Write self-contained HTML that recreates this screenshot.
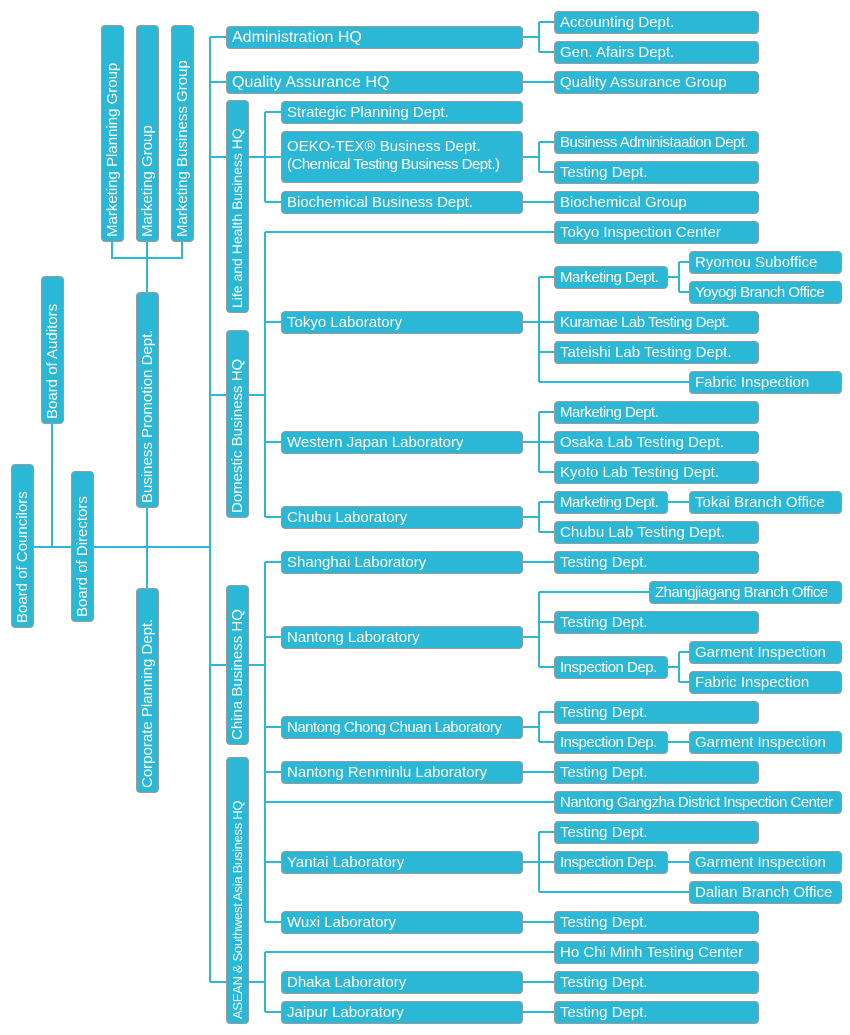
<!DOCTYPE html>
<html><head><meta charset="utf-8"><style>
body{margin:0;width:850px;height:1035px;background:#fff;position:relative;overflow:hidden;font-family:"Liberation Sans",sans-serif}
.b{position:absolute;height:23px;box-sizing:border-box;background:#2bb8d6;border:1px solid #9b9b9b;border-radius:4px;color:#fff;font-size:15px;line-height:21px;padding-left:5px;white-space:nowrap;overflow:hidden}
.s{letter-spacing:-0.5px;font-size:15px}
.v{position:absolute;width:23px;box-sizing:border-box;background:#2bb8d6;border:1px solid #9b9b9b;border-radius:4px;color:#fff;font-size:15px;writing-mode:vertical-rl;transform:rotate(180deg);line-height:21px;padding-top:4px;white-space:nowrap;overflow:hidden}
svg{position:absolute;left:0;top:0}
</style></head><body>
<svg width="850" height="1035"><g fill="none" stroke="#2bb8d6" stroke-width="2">
<path d="M210 37V982M210 37H226M210 82H226M210 157H226M210 395H226M210 665H226M210 982H226"/>
<path d="M34 547H210M52 424V547M112 242V258H182V242M147 242V292M147 508V588"/>
<path d="M523 37H539M539 22V52M539 22H554M539 52H554M523 82H554"/>
<path d="M249 157H265M265 112V202M265 112H281M265 157H281M265 202H281M523 157H539M539 142V172M539 142H554M539 172H554M523 202H554"/>
<path d="M249 395H265M265 232V517M265 232H554M265 322H281M265 442H281M265 517H281"/>
<path d="M523 322H554M539 277V382M539 277H554M539 352H554M539 382H689M668 277H679M679 262V292M679 262H689M679 292H689"/>
<path d="M523 442H554M539 412V472M539 412H554M539 472H554"/>
<path d="M523 517H539M539 502V532M539 502H554M539 532H554M668 502H689"/>
<path d="M249 665H265M265 562V922M265 562H281M265 637H281M265 727H281M265 772H281M265 862H281M265 922H281M265 802H554M523 562H554"/>
<path d="M523 637H539M539 592V667M539 592H649M539 622H554M539 667H554M668 667H679M679 652V682M679 652H689M679 682H689"/>
<path d="M523 727H539M539 712V742M539 712H554M539 742H554M668 742H689M523 772H554"/>
<path d="M523 862H539M539 832V892M539 832H554M539 862H554M539 892H689M668 862H689M523 922H554"/>
<path d="M249 982H265M265 952V1012M265 952H554M265 1012H281M523 982H554M523 1012H554"/>
</g></svg>
<div class="v" style="left:101px;top:25px;height:217px">Marketing Planning Group</div>
<div class="v" style="left:136px;top:25px;height:217px">Marketing Group</div>
<div class="v" style="left:171px;top:25px;height:217px">Marketing Business Group</div>
<div class="v" style="left:136px;top:292px;height:216px">Business Promotion Dept.</div>
<div class="v" style="left:136px;top:588px;height:205px">Corporate Planning Dept.</div>
<div class="v" style="left:41px;top:276px;height:148px">Board of Auditors</div>
<div class="v" style="left:11px;top:464px;height:164px">Board of Councilors</div>
<div class="v" style="left:71px;top:471px;height:151px">Board of Directors</div>
<div class="v" style="left:226px;top:100px;height:213px;font-size:14px">Life and Health Business HQ</div>
<div class="v" style="left:226px;top:330px;height:188px">Domestic Business HQ</div>
<div class="v" style="left:226px;top:585px;height:160px">China Business HQ</div>
<div class="v" style="left:226px;top:757px;height:267px;font-size:13px;letter-spacing:-0.3px">ASEAN &amp; Southwest Asia Business HQ</div>

<div class="b" style="left:226px;top:26px;width:297px;font-size:16px">Administration HQ</div>
<div class="b" style="left:226px;top:71px;width:297px;font-size:16px">Quality Assurance HQ</div>
<div class="b" style="left:554px;top:11px;width:205px">Accounting Dept.</div>
<div class="b" style="left:554px;top:41px;width:205px">Gen. Afairs Dept.</div>
<div class="b" style="left:554px;top:71px;width:205px">Quality Assurance Group</div>
<div class="b" style="left:281px;top:101px;width:242px">Strategic Planning Dept.</div>
<div class="b" style="left:281px;top:131px;width:242px;height:52px;line-height:18px;padding-top:6px">OEKO-TEX® Business Dept.<br><span class="s">(Chemical Testing Business Dept.)</span></div>
<div class="b s" style="left:554px;top:131px;width:205px">Business Administaation Dept.</div>
<div class="b" style="left:554px;top:161px;width:205px">Testing Dept.</div>
<div class="b" style="left:281px;top:191px;width:242px">Biochemical Business Dept.</div>
<div class="b" style="left:554px;top:191px;width:205px">Biochemical Group</div>
<div class="b" style="left:554px;top:221px;width:205px">Tokyo Inspection Center</div>
<div class="b" style="left:689px;top:251px;width:153px">Ryomou Suboffice</div>
<div class="b s" style="left:554px;top:266px;width:114px">Marketing Dept.</div>
<div class="b s" style="left:689px;top:281px;width:153px">Yoyogi Branch Office</div>
<div class="b" style="left:281px;top:311px;width:242px">Tokyo Laboratory</div>
<div class="b s" style="left:554px;top:311px;width:205px">Kuramae Lab Testing Dept.</div>
<div class="b" style="left:554px;top:341px;width:205px">Tateishi Lab Testing Dept.</div>
<div class="b" style="left:689px;top:371px;width:153px">Fabric Inspection</div>
<div class="b s" style="left:554px;top:401px;width:205px">Marketing Dept.</div>
<div class="b" style="left:281px;top:431px;width:242px">Western Japan Laboratory</div>
<div class="b" style="left:554px;top:431px;width:205px">Osaka Lab Testing Dept.</div>
<div class="b" style="left:554px;top:461px;width:205px">Kyoto Lab Testing Dept.</div>
<div class="b s" style="left:554px;top:491px;width:114px">Marketing Dept.</div>
<div class="b" style="left:689px;top:491px;width:153px">Tokai Branch Office</div>
<div class="b" style="left:281px;top:506px;width:242px">Chubu Laboratory</div>
<div class="b" style="left:554px;top:521px;width:205px">Chubu Lab Testing Dept.</div>
<div class="b" style="left:281px;top:551px;width:242px">Shanghai Laboratory</div>
<div class="b" style="left:554px;top:551px;width:205px">Testing Dept.</div>
<div class="b s" style="left:649px;top:581px;width:193px">Zhangjiagang Branch Office</div>
<div class="b" style="left:554px;top:611px;width:205px">Testing Dept.</div>
<div class="b" style="left:281px;top:626px;width:242px">Nantong Laboratory</div>
<div class="b" style="left:689px;top:641px;width:153px">Garment Inspection</div>
<div class="b s" style="left:554px;top:656px;width:114px">Inspection Dep.</div>
<div class="b" style="left:689px;top:671px;width:153px">Fabric Inspection</div>
<div class="b" style="left:554px;top:701px;width:205px">Testing Dept.</div>
<div class="b s" style="left:281px;top:716px;width:242px">Nantong Chong Chuan Laboratory</div>
<div class="b s" style="left:554px;top:731px;width:114px">Inspection Dep.</div>
<div class="b" style="left:689px;top:731px;width:153px">Garment Inspection</div>
<div class="b" style="left:281px;top:761px;width:242px">Nantong Renminlu Laboratory</div>
<div class="b" style="left:554px;top:761px;width:205px">Testing Dept.</div>
<div class="b s" style="left:554px;top:791px;width:288px">Nantong Gangzha District Inspection Center</div>
<div class="b" style="left:554px;top:821px;width:205px">Testing Dept.</div>
<div class="b" style="left:281px;top:851px;width:242px">Yantai Laboratory</div>
<div class="b s" style="left:554px;top:851px;width:114px">Inspection Dep.</div>
<div class="b" style="left:689px;top:851px;width:153px">Garment Inspection</div>
<div class="b" style="left:689px;top:881px;width:153px">Dalian Branch Office</div>
<div class="b" style="left:281px;top:911px;width:242px">Wuxi Laboratory</div>
<div class="b" style="left:554px;top:911px;width:205px">Testing Dept.</div>
<div class="b" style="left:554px;top:941px;width:205px">Ho Chi Minh Testing Center</div>
<div class="b" style="left:281px;top:971px;width:242px">Dhaka Laboratory</div>
<div class="b" style="left:554px;top:971px;width:205px">Testing Dept.</div>
<div class="b" style="left:281px;top:1001px;width:242px">Jaipur Laboratory</div>
<div class="b" style="left:554px;top:1001px;width:205px">Testing Dept.</div>
</body></html>
